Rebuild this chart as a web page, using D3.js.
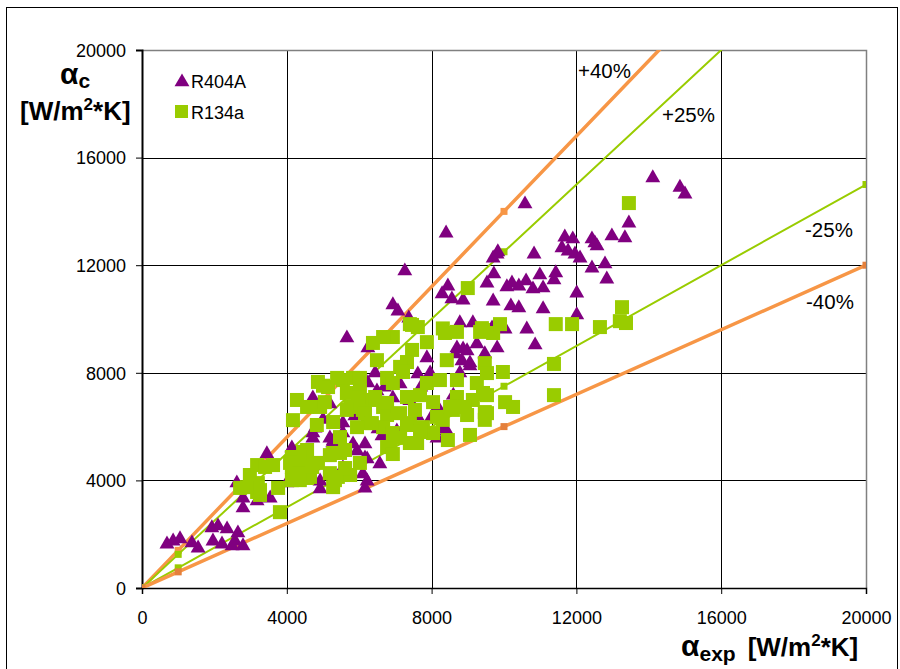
<!DOCTYPE html>
<html>
<head>
  <title>alpha_c vs alpha_exp</title>
  <script src="https://cdn.jsdelivr.net/npm/d3@7/dist/d3.min.js"></script>
  <style>
    body { margin: 0; background: #fff; }
    svg text { font-family: "Liberation Sans", Arial, sans-serif; fill: #000; }
    .tick-label { font-size: 18px; }
    .axis-title { font-size: 26px; font-weight: bold; }
  </style>
</head>
<body>
<div id="chart"></div>
<script>
  // ticks
  const xTicks = [0, 4000, 8000, 12000, 16000, 20000];
  const yTicks = [0, 4000, 8000, 12000, 16000, 20000];

  // reference lines (x points and y values)
  const refX = [0, 1000, 10000, 20000];
  const plus40 = [0, 1400, 14000, 28000];
  const plus25 = [0, 1250, 12500, 25000];
  const minus25 = [0, 750, 7500, 15000];
  const minus40 = [0, 600, 6000, 12000];
  const refLabels = ['+40%', '+25%', '-25%', '-40%'];

  // R404A  [alpha_exp, alpha_c]
  const r404a = [
    [690,1670],[860,1780],[1050,1860],[1380,1710],[1550,1520],[1930,2270],[2100,2340],[2350,2230],
    [2650,2080],[1960,1780],[2210,1670],[2570,1780],[2790,1600],[2490,1600],
    [2620,3940],[2790,3380],[2790,3010],[3180,3270],[3450,5020],[3540,3380],[4000,3940],[4140,5240],
    [4920,3720],[4720,5610],[5280,5500],[6240,8960],[6440,8030],[6240,7660],[4720,7100],[5190,6880],
    [5880,6430],[5550,6170],[5550,5800],[5830,5390],[6160,5390],[6160,4870],[4720,4570],[4920,4010],
    [5550,4500],[6100,4280],[6160,3750],[6570,4650],[6630,5690],[6490,7360],[6930,7100],[6520,5950],
    [7260,11820],[5660,9330],[6930,10560],[7070,10330],[8450,11260],[8290,10970],[8560,10780],[8870,10740],
    [9530,11370],[9700,10700],[8780,9890],[9140,9890],[8700,8960],[8980,8850],[8840,8480],[9060,8290],
    [7870,8590],[5270,5430],[6220,4830],[6220,4010],[4780,5980],
    [10860,9070],[9810,8960],[9470,8740],[9250,9110],[8870,8920],[9060,8400],[8650,8740],[7960,8030],
    [7620,7990],[8780,8030],[7130,7620],[7600,6430],[8180,6730],[7040,5870],[8420,5870],
    [10580,14310],[8400,13230],[9810,12450],[9700,12300],[10830,12450],[9720,11710],[10080,11230],[10220,11370],
    [10410,11260],[10610,11450],[10800,11150],[10190,10520],[10410,10450],[7370,10070],[9670,9700],[10630,9660],
    [14110,15280],[14860,14930],[15000,14680],[13450,13600],[13340,13050],[12980,13120],[12430,13010],[12510,12860],
    [12570,12750],[11680,13080],[11900,13010],[11600,12680],[11770,12560],[11960,12450],[12100,12300],[9830,12530],
    [12790,12080],[12430,11930],[12840,11520],[10990,11670],[11430,11750],[11380,11490],[11080,11190],[12010,11000],
    [11080,10410],[12010,10190],[10030,9660],
    [7700,7500],[8100,7700],[6700,7500],[5410,6130],[5190,5610],[5940,5130],[8150,5610],[8310,5950],
    [4720,5800],[7400,7000],[8000,6400],[8600,7200],[6000,6800],[5000,6300]
  ];

  // R134a  [alpha_exp, alpha_c]
  const r134a = [
    [2710,3720],[2980,4200],[3200,3900],[3180,4570],[3400,4500],[3260,3460],[3620,4570],[3760,3720],
    [3810,2820],[4140,4870],[4230,4390],[4450,5060],[4560,4090],[4830,6060],[4860,4650],[5190,4270],
    [5280,5020],[4170,6240],[3180,3570],[4500,4870],[4640,4280],
    [6380,9110],[6490,8470],[5000,7520],[5550,7730],[5830,7810],[5660,7250],[6020,7360],[6300,6990],
    [4280,6990],[4560,6730],[4920,6730],[5280,6170],[5750,6730],[6100,6620],[6240,6130],[6770,6430],
    [5940,5980],[5470,5610],[6660,5980],[6930,5760],[6770,5240],[5470,5020],[5190,4940],[4560,5130],
    [4230,4830],[4140,4500],[4500,4500],[4640,4130],[4360,4010],[5410,4130],[5750,4200],[3260,3640],
    [2900,3750],
    [9000,11150],[8310,9650],[8700,9520],[9340,9520],[9700,9480],[6930,9330],[7460,9780],[7620,9700],
    [7460,8850],[7320,8400],[7130,8220],[7870,9140],[8370,9480],[9470,8360],[9970,8030],[9530,7170],
    [10030,6910],[10250,6730],[9470,6250],[9060,5690],[8450,5500],[8040,5760],[7760,5980],[7320,6060],
    [6850,5240],[7400,5390],[6930,4980],[8420,8470],[8700,7730],[9250,7620],[9140,6990],[8700,7100],
    [8590,6620],[8980,6430],[8040,6910],[7680,7170],[7210,8030],[6770,7810],[6930,7620],[7320,7100],
    [6660,6730],[7130,6500],[7870,7620],[8230,7730],[8310,6250],[7540,6620],[7400,9810],[9390,9660],
    [9890,9810],[6660,9330],
    [13450,14310],[13260,10440],[11430,9810],[11880,9810],[12650,9700],[13200,9920],[13370,9850],[11380,8330],
    [11380,7170],[9420,9590],[9530,7990],[9470,6540],
    [4860,7660],[5140,7470],[5050,6910],[5390,7810],[6020,7810],[5970,7100],[6440,7100],[6770,6880],
    [5660,6620],[6160,6500],[6350,6130],[7400,6130],[7680,5800],[8150,6360],[8510,6730],[8920,6730],
    [9420,7250],[9530,6500],[7600,5390],[7130,5580],[5610,5130],[6020,4650],[5610,4460],[5330,4010],
    [4360,4870],[4090,4650],[4360,4270],[4140,4010],[4700,4500],[5280,3750]
  ];

  const W = 900, H = 669;
  const plot = { left: 142, right: 866, top: 50, bottom: 588 };

  const svg = d3.select('#chart').append('svg')
    .attr('width', W).attr('height', H);

  // outer chart frame
  svg.append('rect')
    .attr('x', 6.5).attr('y', 7.5).attr('width', 891).attr('height', 700)
    .attr('fill', 'none').attr('stroke', '#000').attr('stroke-width', 1);

  const x = d3.scaleLinear().domain([0, 20000]).range([plot.left, plot.right]);
  const y = d3.scaleLinear().domain([0, 20000]).range([plot.bottom, plot.top]);

  svg.append('clipPath').attr('id', 'clip')
    .append('rect')
    .attr('x', plot.left).attr('y', plot.top)
    .attr('width', plot.right - plot.left).attr('height', plot.bottom - plot.top);

  // grid
  const grid = svg.append('g');
  grid.selectAll('.gx').data(xTicks.slice(1, -1)).join('line')
    .attr('x1', d => Math.round(x(d)) + 0.5).attr('x2', d => Math.round(x(d)) + 0.5)
    .attr('y1', plot.top).attr('y2', plot.bottom)
    .attr('stroke', '#000').attr('stroke-width', 1);
  grid.selectAll('.gy').data(yTicks.slice(1, -1)).join('line')
    .attr('y1', d => Math.round(y(d)) + 0.5).attr('y2', d => Math.round(y(d)) + 0.5)
    .attr('x1', plot.left).attr('x2', plot.right)
    .attr('stroke', '#000').attr('stroke-width', 1);

  // plot border (top and right grey)
  svg.append('path')
    .attr('d', `M${plot.left},${plot.top + 0.5}H${plot.right + 0.5}V${plot.bottom}`)
    .attr('fill', 'none').attr('stroke', '#808080').attr('stroke-width', 1.5);

  // axes
  const xAxis = d3.axisBottom(x).tickValues(xTicks).tickSize(6).tickFormat(d3.format('d'));
  const gx = svg.append('g')
    .attr('transform', `translate(0,${plot.bottom})`)
    .call(xAxis);
  gx.select('.domain').attr('stroke', '#000').attr('stroke-width', 1.5);
  gx.selectAll('.tick line').attr('stroke', '#000');
  gx.selectAll('.tick text').attr('class', 'tick-label').attr('dy', null).attr('y', 36);
  gx.attr('font-size', null).attr('font-family', null);

  const yAxis = d3.axisLeft(y).tickValues(yTicks).tickSize(6).tickFormat(d3.format('d'));
  const gy = svg.append('g')
    .attr('transform', `translate(${plot.left},0)`)
    .call(yAxis);
  gy.select('.domain').attr('stroke', '#000').attr('stroke-width', 2);
  gy.selectAll('.tick line').attr('stroke', '#000');
  gy.selectAll('.tick text').attr('class', 'tick-label').attr('x', -16).attr('dy', '0.35em');
  gy.attr('font-size', null).attr('font-family', null);

  // reference lines
  const refSeries = [
    { ys: plus40, color: '#f79646', mark: '#f79646', width: 3.5 },
    { ys: plus25, color: '#99cc00', mark: '#99cc00', width: 2 },
    { ys: minus25, color: '#99cc00', mark: '#99cc00', width: 2 },
    { ys: minus40, color: '#f79646', mark: '#e4803c', width: 3.5 }
  ];
  const lineGen = d3.line().x(d => x(d[0])).y(d => y(d[1]));
  const refG = svg.append('g').attr('clip-path', 'url(#clip)');
  refSeries.forEach(s => {
    const pts = refX.map((v, i) => [v, s.ys[i]]);
    refG.append('path').datum(pts)
      .attr('d', lineGen)
      .attr('fill', 'none').attr('stroke', s.color).attr('stroke-width', s.width);
    refG.selectAll(null).data(pts).join('rect')
      .attr('x', d => x(d[0]) - 3.5).attr('y', d => y(d[1]) - 3.5)
      .attr('width', 7).attr('height', 7)
      .attr('fill', s.mark);
  });

  // ref labels
  const labelPos = [[578, 78], [662, 122], [805, 237], [806, 309]];
  svg.selectAll('.reflabel').data(refLabels).join('text')
    .attr('x', (d, i) => labelPos[i][0]).attr('y', (d, i) => labelPos[i][1])
    .attr('font-size', 20.5)
    .text(d => d);

  // points
  const tri = d3.symbol().type(d3.symbolTriangle).size(96);
  svg.append('g').selectAll('path').data(r404a).join('path')
    .attr('d', tri)
    .attr('transform', d => `translate(${x(d[0])},${y(d[1]) + 1})`)
    .attr('fill', '#800080');

  svg.append('g').selectAll('rect').data(r134a).join('rect')
    .attr('x', d => x(d[0]) - 7).attr('y', d => y(d[1]) - 7)
    .attr('width', 14).attr('height', 14)
    .attr('fill', '#99cc00');

  // legend
  const lg = svg.append('g');
  lg.append('path').attr('d', tri).attr('transform', 'translate(182,82)').attr('fill', '#800080');
  lg.append('text').attr('x', 191).attr('y', 88).attr('font-size', 18).text('R404A');
  lg.append('rect').attr('x', 175).attr('y', 105).attr('width', 13).attr('height', 13).attr('fill', '#99cc00');
  lg.append('text').attr('x', 191).attr('y', 119).attr('font-size', 18).text('R134a');

  // y axis title
  const yt = svg.append('text').attr('class', 'axis-title').attr('x', 60).attr('y', 84);
  yt.append('tspan').attr('font-size', 30).text('α');
  yt.append('tspan').attr('dy', 4).attr('font-size', 21).text('c');
  const yt2 = svg.append('text').attr('class', 'axis-title').attr('x', 20).attr('y', 120);
  yt2.append('tspan').text('[W/m');
  yt2.append('tspan').attr('dy', -10).attr('font-size', 17).text('2');
  yt2.append('tspan').attr('dy', 10).text('*K]');

  // x axis title
  const xt = svg.append('text').attr('class', 'axis-title').attr('x', 681).attr('y', 656);
  xt.append('tspan').attr('font-size', 30).text('α');
  xt.append('tspan').attr('dy', 5).attr('font-size', 21).text('exp');
  xt.append('tspan').attr('dy', -5).attr('dx', 12).text('[W/m');
  xt.append('tspan').attr('dy', -10).attr('font-size', 17).text('2');
  xt.append('tspan').attr('dy', 10).text('*K]');
</script>
</body>
</html>
